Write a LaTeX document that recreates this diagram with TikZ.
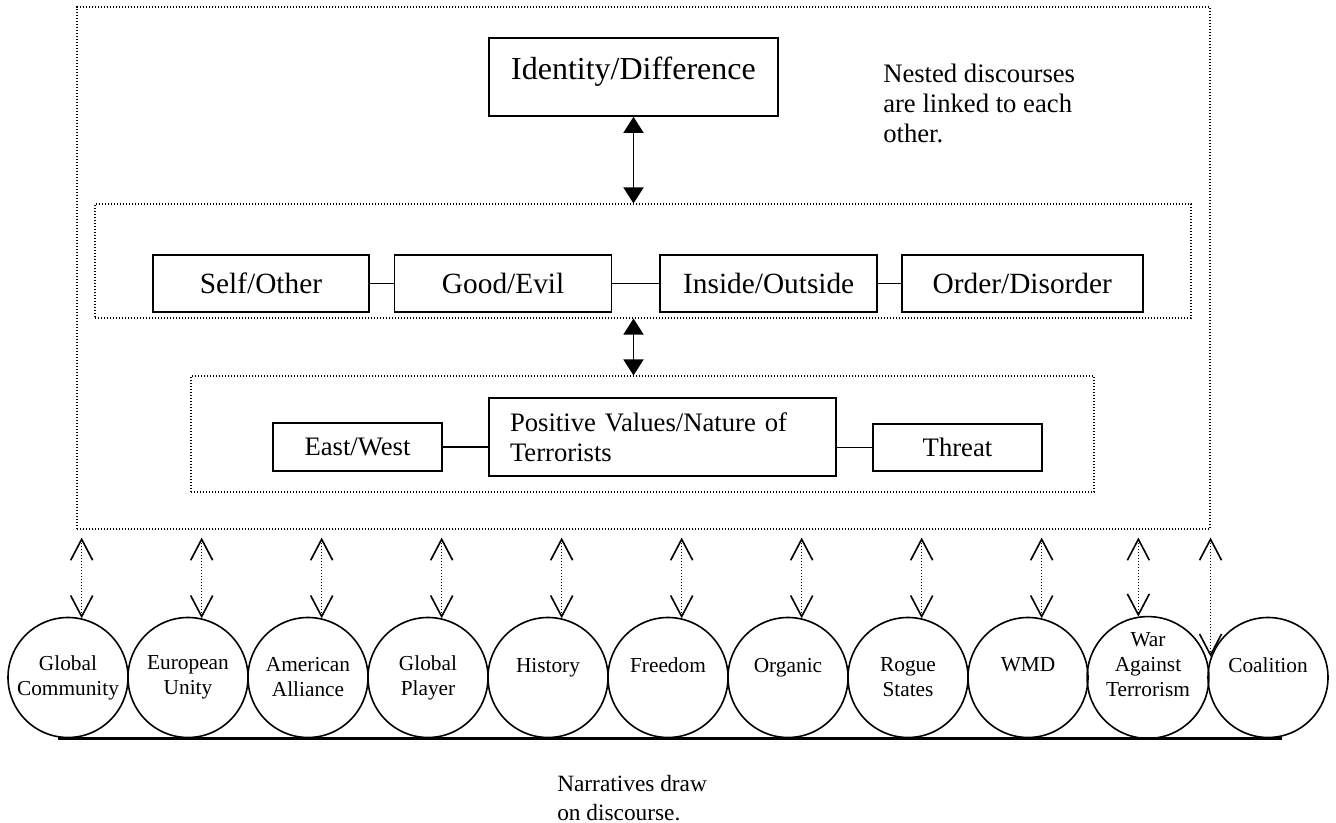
\documentclass[tikz,border=0pt]{standalone}
\usepackage{fontspec}
\setmainfont{Liberation Serif}
\usepackage{tikz}
\usetikzlibrary{arrows.meta, positioning}

\begin{document}
\begin{tikzpicture}[
        x=0.75pt, y=-0.75pt,
        dotbox/.style={draw, line width=0.8pt, dash pattern=on 0.8pt off 1.45pt, inner sep=0pt},
        pair/.style={rectangle, draw, line width=1.2pt, font=\fontsize{22}{26}\selectfont, minimum height=42.75pt, inner sep=0pt},
        tier/.style={rectangle, draw, line width=1.2pt, font=\fontsize{20}{22.5}\selectfont, minimum height=36pt, inner sep=0pt},
        disc/.style={circle, draw, line width=1.2pt, minimum size=90pt, inner sep=0pt, align=center, font=\fontsize{16}{18.75}\selectfont},
        tie/.style={line width=1.2pt},
        link/.style={line width=1.2pt, {Triangle[length=12pt, width=15pt]}-{Triangle[length=12pt, width=15pt]}},
        narr/.style={line width=0.8pt, dash pattern=on 0.8pt off 1.45pt, shorten <=6pt,
            {Straight Barb[length=15.75pt, width=16.5pt, line width=1.2pt]}-{Straight Barb[length=15.75pt, width=16.5pt, line width=1.2pt]}},
        note/.style={align=left, inner sep=0pt, anchor=north west}
    ]
        \useasboundingbox (0,0) rectangle (1336,823);

        \node[dotbox, minimum width=849.75pt, minimum height=391.5pt] (outer) at (643.5,268) {};
        \node[dotbox, minimum width=822pt, minimum height=85.5pt] (mid) at (643,261) {};
        \node[dotbox, minimum width=677.25pt, minimum height=87pt] (low) at (642.5,434) {};

        \node[draw, line width=1.2pt, inner sep=0pt, minimum width=216.75pt, text height=31.5pt, text depth=27pt, font=\fontsize{24}{28}\selectfont] (idd) at (633.5,77) {Identity/Difference};
        \node[note, font=\fontsize{20}{22.5}\selectfont] (nested) at (883,64) {Nested discourses\\are linked to each\\other.};

        \node[pair, minimum width=162pt] (self) at (261,283.5) {Self/Other};
        \node[pair, minimum width=162.75pt, right=18pt of self] (good) {Good/Evil};
        \node[pair, minimum width=162.75pt, right=35.25pt of good] (inout) {Inside/Outside};
        \node[pair, minimum width=180.75pt, right=17.25pt of inout] (order) {Order/Disorder};

        \node[tier, minimum width=126.75pt] (ew) at (357.5,447) {East/West};
        \node[tier, minimum width=260.25pt, minimum height=58.5pt, text width=228.75pt, inner xsep=15.75pt, align=left] (pos) at (662.5,437) {Positive Values/Nature of\\Terrorists};
        \node[tier, minimum width=126.75pt, minimum height=35.25pt] (threat) at (957.5,447.5) {Threat};

        \draw[tie] (self.east) -- (good.west);
        \draw[tie] (good.east) -- (inout.west);
        \draw[tie] (inout.east) -- (order.west);
        \draw[tie] (ew.east) -- (ew.east -| pos.west);
        \draw[tie] (pos.east |- threat.west) -- (threat.west);

        \draw[link] (idd.south) -- (idd.south |- mid.north);
        \draw[link] (idd.south |- mid.south) -- (idd.south |- low.north);

        \foreach \txt [count=\i] in {{Global\\Community}, {European\\Unity}, {American\\Alliance}, {Global\\Player}, {History\\~}, {Freedom\\~}, {Organic\\~}, {Rogue\\States}, {WMD\\~}, {War\\Against\\Terrorism\\~}, {Coalition\\~}}
            \node[disc] (c\i) at ({68+120*(\i-1)},677.5) {\txt};

        \foreach \i in {1,...,9}
            \draw[narr] (c\i.77 |- outer.south) -- (c\i.77);
        \draw[narr] (c10.99 |- outer.south) -- (c10.99);
        \draw[narr] (outer.south east) -- (outer.south east |- c11.160);

        \draw[line width=2.25pt] ([xshift=-7.5pt]c1.south) -- ([xshift=10.5pt]c11.south);

        \node[note, font=\fontsize{17.5}{21.75}\selectfont] (drawnote) at (557,775) {Narratives draw\\on discourse.};
    \end{tikzpicture}
\end{document}
